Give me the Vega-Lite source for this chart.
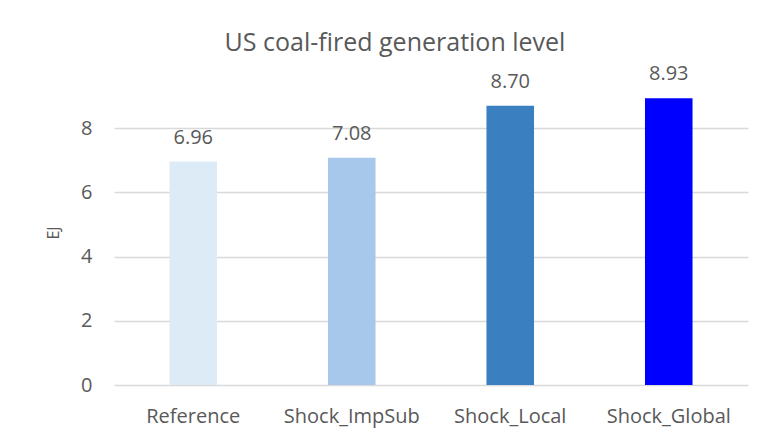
{
  "$schema": "https://vega.github.io/schema/vega-lite/v6.json",
  "width": 634,
  "height": 305,
  "autosize": {"type": "none"},
  "padding": {"left": 114, "top": 80, "right": 20, "bottom": 61},
  "background": "white",
  "config": {"view": {"stroke": null}, "font": "Open Sans"},
  "title": {
    "text": "US coal-fired generation level",
    "fontSize": 25,
    "fontWeight": "normal",
    "color": "#595959",
    "anchor": "middle",
    "offset": 8,
    "dx": -36
  },
  "data": {
    "values": [
      {"scenario": "Reference", "value": 6.96},
      {"scenario": "Shock_ImpSub", "value": 7.08},
      {"scenario": "Shock_Local", "value": 8.70},
      {"scenario": "Shock_Global", "value": 8.93}
    ]
  },
  "encoding": {
    "x": {
      "field": "scenario",
      "type": "nominal",
      "sort": null,
      "scale": {"paddingInner": 0.7, "paddingOuter": 0.35},
      "axis": {
        "title": null,
        "labelAngle": 0,
        "labelFontSize": 20,
        "labelColor": "#595959",
        "labelPadding": 21,
        "ticks": false,
        "domain": false
      }
    },
    "y": {
      "field": "value",
      "type": "quantitative",
      "scale": {"domain": [0, 9.5], "nice": false},
      "axis": {
        "title": "EJ",
        "titleFontSize": 16,
        "titleFontWeight": "normal",
        "titleColor": "#595959",
        "titlePadding": 19,
        "values": [0, 2, 4, 6, 8],
        "labelFontSize": 20,
        "labelColor": "#595959",
        "labelPadding": 22,
        "ticks": false,
        "domain": false,
        "grid": true,
        "gridColor": "#d9d9d9",
        "gridWidth": 1.5
      }
    }
  },
  "layer": [
    {
      "mark": {"type": "bar"},
      "encoding": {
        "color": {
          "field": "scenario",
          "type": "nominal",
          "sort": null,
          "scale": {
            "domain": ["Reference", "Shock_ImpSub", "Shock_Local", "Shock_Global"],
            "range": ["#ddebf7", "#a7c8ea", "#3a7fc0", "#0000ff"]
          },
          "legend": null
        }
      }
    },
    {
      "mark": {"type": "text", "dy": -18, "baseline": "alphabetic", "fontSize": 20, "color": "#595959"},
      "encoding": {
        "text": {"field": "value", "type": "quantitative", "format": ".2f"}
      }
    }
  ]
}
